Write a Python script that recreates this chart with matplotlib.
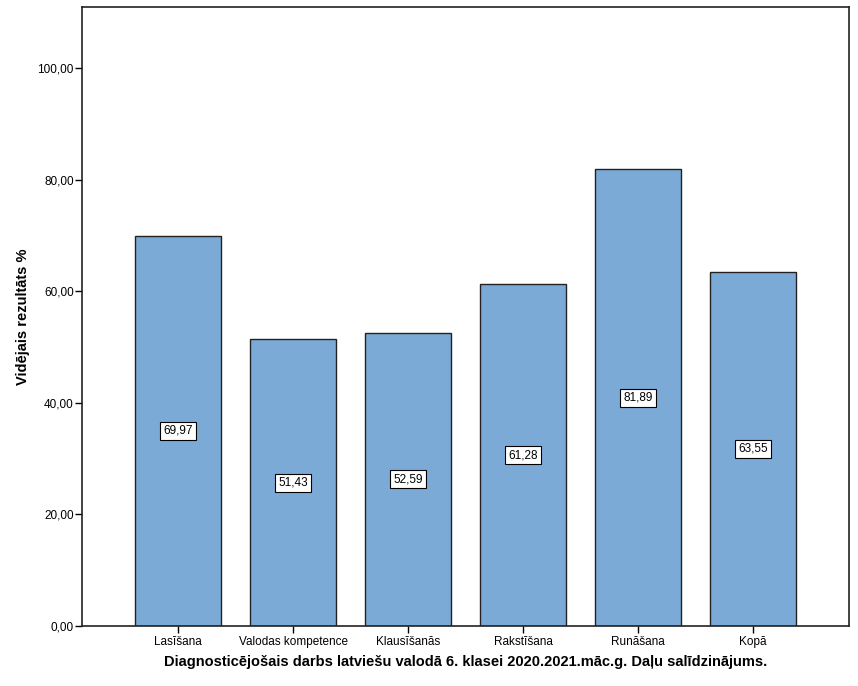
import matplotlib.pyplot as plt
from matplotlib.ticker import FuncFormatter

categories = ['Lasīšana', 'Valodas kompetence', 'Klausīšanās', 'Rakstīšana', 'Runāšana', 'Kopā']
values = [69.97, 51.43, 52.59, 61.28, 81.89, 63.55]

plt.rcParams['font.family'] = ['Arial', 'Liberation Sans', 'DejaVu Sans']

fig = plt.figure(figsize=(8.58, 6.86), dpi=100)
ax = fig.add_axes([82 / 858, 60 / 686, 767 / 858, 619 / 686])

x = range(len(categories))
ax.bar(x, values, width=0.755, color='#7BAAD7', edgecolor='#222222', linewidth=1.0, zorder=2)

for i, v in zip(x, values):
    ax.text(i, v / 2, f'{v:.2f}'.replace('.', ','), ha='center', va='center', fontsize=8.5,
            bbox=dict(boxstyle='square,pad=0.25', facecolor='white', edgecolor='black', linewidth=0.8),
            zorder=3)

ax.set_xlim(-0.835, 5.835)
ax.set_ylim(0, 111)
ax.set_yticks([0, 20, 40, 60, 80, 100])
ax.yaxis.set_major_formatter(FuncFormatter(lambda v, p: f'{v:.2f}'.replace('.', ',')))
ax.set_xticks(list(x))
ax.set_xticklabels(categories)
ax.tick_params(axis='both', labelsize=8.5, length=5, width=1, direction='out', color='black')
ax.tick_params(axis='x', pad=2)
ax.tick_params(axis='y', pad=1)

for s in ax.spines.values():
    s.set_linewidth(1.2)
    s.set_color('#222222')

ax.set_ylabel('Vidējais rezultāts %', fontsize=10.5, fontweight='bold', labelpad=5)
ax.set_xlabel('Diagnosticējošais darbs latviešu valodā 6. klasei 2020.2021.māc.g. Daļu salīdzinājums.',
              fontsize=10.5, fontweight='bold', labelpad=5)

fig.savefig('out.png', dpi=100)
